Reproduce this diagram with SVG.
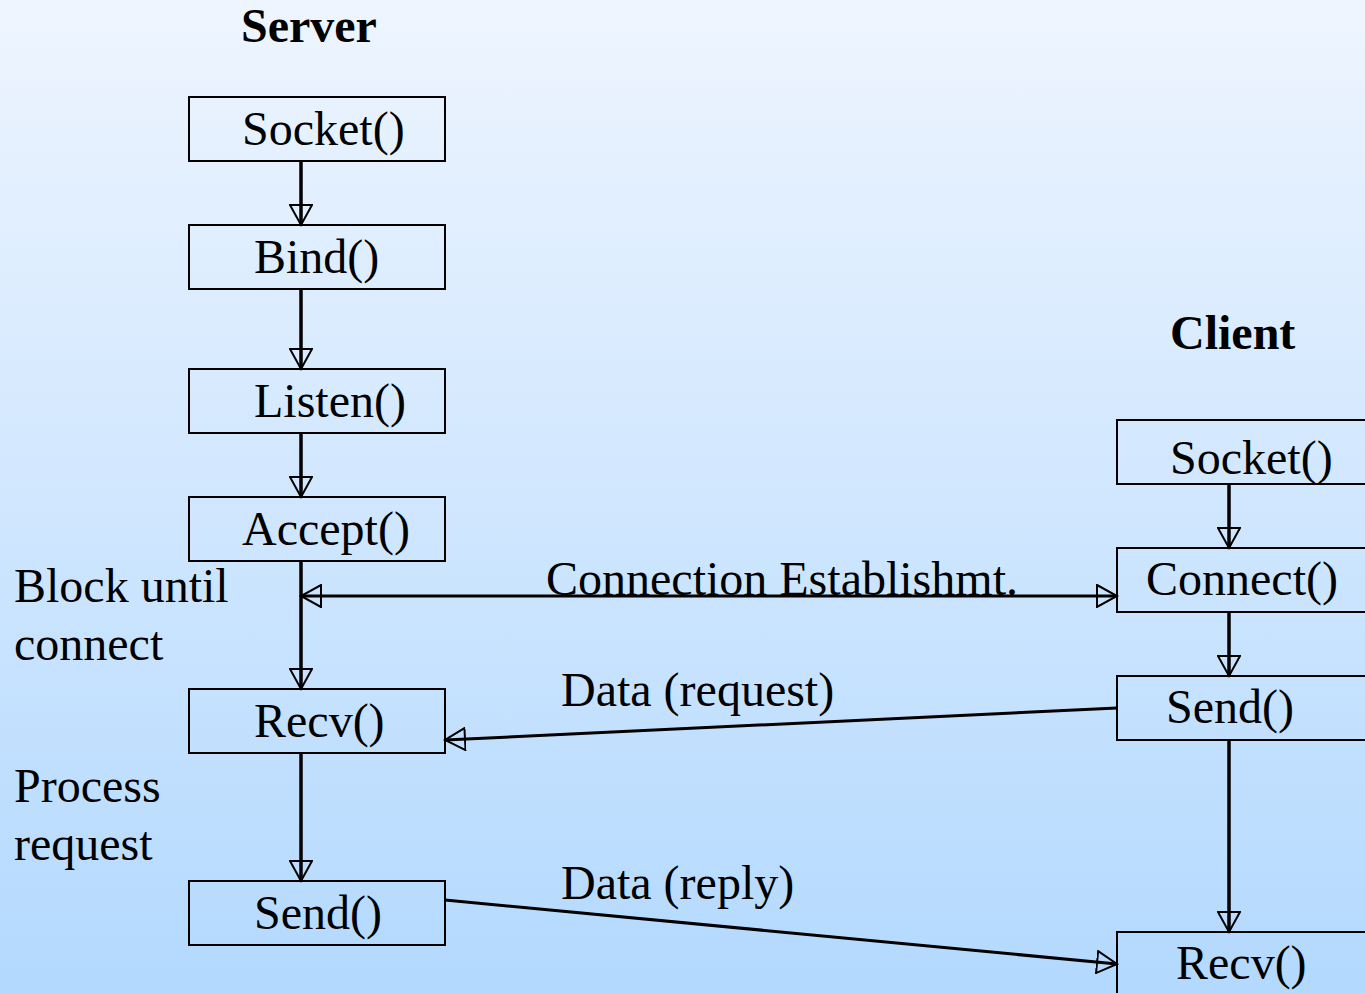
<svg xmlns="http://www.w3.org/2000/svg" width="1365" height="993" viewBox="0 0 1365 993" font-family="Liberation Serif, Times New Roman, DejaVu Serif, serif">
<defs>
<linearGradient id="bg" x1="0" y1="0" x2="0" y2="1">
<stop offset="0" stop-color="#EEF5FE"/>
<stop offset="1" stop-color="#B3D9FE"/>
</linearGradient>
<marker id="ah" viewBox="0 0 24 24" refX="21" refY="12" markerWidth="24" markerHeight="24" markerUnits="userSpaceOnUse" orient="auto-start-reverse">
<path d="M1,1 L21,12 L1,23 Z" fill="none" stroke="#000" stroke-width="2"/>
</marker>
<style>
.box{fill:none;stroke:#000;stroke-width:2}
.t{font-size:48px;fill:#000}
.h{font-size:48px;font-weight:bold;fill:#000}
.c{fill:none;stroke:#000;stroke-width:3.5}
.c2{fill:none;stroke:#000;stroke-width:3}
</style>
</defs>
<rect width="1365" height="993" fill="url(#bg)"/>
<g id="titles">
<text class="h" x="241" y="42">Server</text>
<text class="h" x="1170" y="349">Client</text>
</g>
<g id="connectors">
<line class="c" x1="301" y1="161" x2="301" y2="225" marker-end="url(#ah)"/>
<line class="c" x1="301" y1="289" x2="301" y2="369" marker-end="url(#ah)"/>
<line class="c" x1="301" y1="433" x2="301" y2="497" marker-end="url(#ah)"/>
<line class="c" x1="301" y1="561" x2="301" y2="689" marker-end="url(#ah)"/>
<line class="c" x1="301" y1="753" x2="301" y2="881" marker-end="url(#ah)"/>
<line class="c" x1="1229" y1="484" x2="1229" y2="548" marker-end="url(#ah)"/>
<line class="c" x1="1229" y1="612" x2="1229" y2="676" marker-end="url(#ah)"/>
<line class="c" x1="1229" y1="740" x2="1229" y2="932" marker-end="url(#ah)"/>
<line class="c2" x1="301" y1="596" x2="1117" y2="596" marker-start="url(#ah)" marker-end="url(#ah)"/>
<line class="c2" x1="1117" y1="708" x2="445" y2="740" marker-end="url(#ah)"/>
<line class="c2" x1="445" y1="900" x2="1117" y2="964" marker-end="url(#ah)"/>
</g>
<g id="s-socket"><rect class="box" x="189" y="97" width="256" height="64"/><text class="t" x="242" y="145">Socket()</text></g>
<g id="s-bind"><rect class="box" x="189" y="225" width="256" height="64"/><text class="t" x="254" y="273">Bind()</text></g>
<g id="s-listen"><rect class="box" x="189" y="369" width="256" height="64"/><text class="t" x="254" y="417">Listen()</text></g>
<g id="s-accept"><rect class="box" x="189" y="497" width="256" height="64"/><text class="t" x="242" y="545">Accept()</text></g>
<g id="s-recv"><rect class="box" x="189" y="689" width="256" height="64"/><text class="t" x="254" y="737">Recv()</text></g>
<g id="s-send"><rect class="box" x="189" y="881" width="256" height="64"/><text class="t" x="254" y="929">Send()</text></g>
<g id="c-socket"><rect class="box" x="1117" y="420" width="260" height="64"/><text class="t" x="1170" y="474">Socket()</text></g>
<g id="c-connect"><rect class="box" x="1117" y="548" width="260" height="64"/><text class="t" x="1146" y="595">Connect()</text></g>
<g id="c-send"><rect class="box" x="1117" y="676" width="260" height="64"/><text class="t" x="1166" y="723">Send()</text></g>
<g id="c-recv"><rect class="box" x="1117" y="932" width="260" height="70"/><text class="t" x="1176" y="979">Recv()</text></g>
<g id="labels">
<text class="t" x="14" y="602">Block until</text>
<text class="t" x="14" y="660">connect</text>
<text class="t" x="14" y="802">Process</text>
<text class="t" x="14" y="860">request</text>
<text class="t" x="546" y="595">Connection Establishmt.</text>
<text class="t" x="561" y="706">Data (request)</text>
<text class="t" x="561" y="899">Data (reply)</text>
</g>
</svg>
